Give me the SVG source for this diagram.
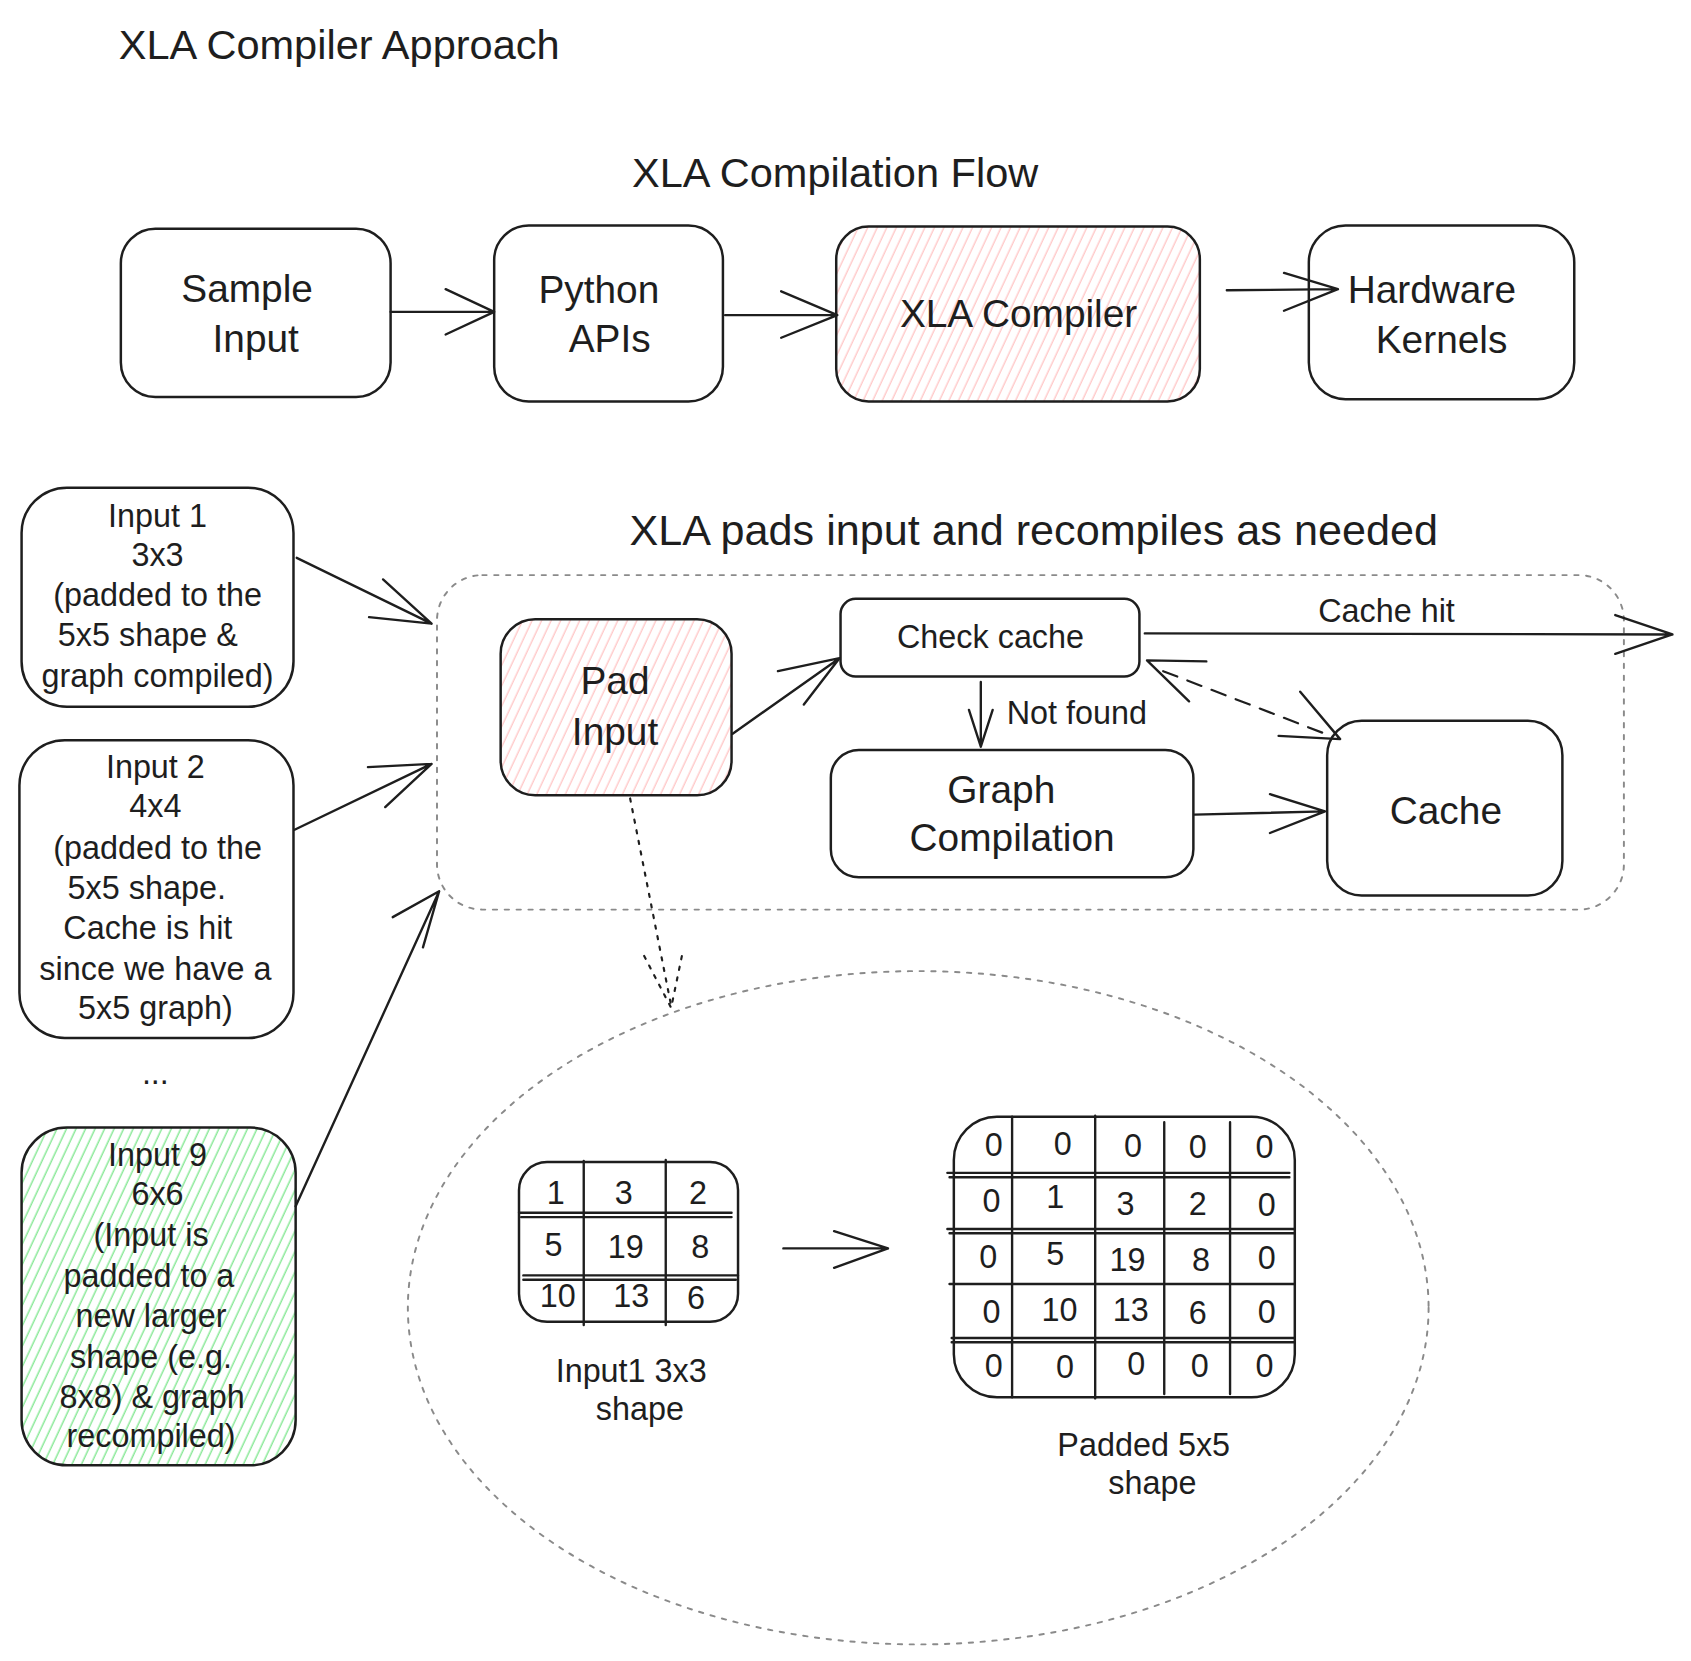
<svg xmlns="http://www.w3.org/2000/svg" width="1691" height="1661" viewBox="0 0 1691 1661">
<defs>
<pattern id="pink" width="8" height="8" patternUnits="userSpaceOnUse" patternTransform="rotate(25)">
<rect width="8" height="8" fill="#ffffff"/>
<line x1="2" y1="0" x2="2" y2="8" stroke="#ffc9c9" stroke-width="1.3"/>
</pattern>
<pattern id="green" width="8" height="8" patternUnits="userSpaceOnUse" patternTransform="rotate(25)">
<rect width="8" height="8" fill="#ffffff"/>
<line x1="2" y1="0" x2="2" y2="8" stroke="#8ce99a" stroke-width="1.4"/>
</pattern>
<style>
.box{fill:#ffffff;stroke:#1e1e1e;stroke-width:2.3}
.t{font-family:"Liberation Sans",Arial,sans-serif;fill:#1e1e1e;text-anchor:middle}
.s{text-anchor:start}
.big{font-size:36px}
.mid{font-size:30px}
.ln{fill:none;stroke:#1e1e1e;stroke-width:2.2;stroke-linecap:round;stroke-linejoin:round}
.dl{fill:none;stroke:#1e1e1e;stroke-width:2;stroke-dasharray:14 10;stroke-linecap:round}
.dt{fill:none;stroke:#1e1e1e;stroke-width:2;stroke-dasharray:3 7;stroke-linecap:round}
.grey{fill:none;stroke:#8a8a8a;stroke-width:1.8;stroke-dasharray:4 7;stroke-linecap:round}
.grid{fill:none;stroke:#1e1e1e;stroke-width:2.2;stroke-linecap:round}
</style>
</defs>
<rect width="1691" height="1661" fill="#ffffff"/>
<g transform="scale(1.079)">

<g id="titles">
<text class="t s" x="110" y="55" font-size="38.5">XLA Compiler Approach</text>
<text class="t" x="774" y="173" font-size="38.5">XLA Compilation Flow</text>
<text class="t" x="958" y="505" font-size="40">XLA pads input and recompiles as needed</text>
</g>

<g id="sample-input">
<rect class="box" x="112" y="212" width="250" height="156" rx="32"/>
<text class="t big" x="229" y="280">Sample</text>
<text class="t big" x="237" y="326">Input</text>
</g>
<g id="python-apis">
<rect class="box" x="458" y="209" width="212" height="163" rx="32"/>
<text class="t big" x="555" y="281">Python</text>
<text class="t big" x="565" y="326">APIs</text>
</g>
<g id="xla-compiler">
<rect class="box" x="775" y="210" width="337" height="162" rx="30" style="fill:url(#pink)"/>
<text class="t big" x="944" y="303">XLA Compiler</text>
</g>
<g id="hardware-kernels">
<rect class="box" x="1213" y="209" width="246" height="161" rx="34"/>
<text class="t big" x="1327" y="281">Hardware</text>
<text class="t big" x="1336" y="327">Kernels</text>
</g>

<g id="container">
<rect class="grey" x="405" y="533" width="1100" height="310" rx="42"/>
</g>
<g id="zoom-ellipse">
<ellipse class="grey" cx="851" cy="1212" rx="473" ry="312"/>
</g>

<g id="input-1">
<rect class="box" x="20" y="452" width="252" height="203" rx="42"/>
<text class="t mid" x="146" y="488">Input 1</text>
<text class="t mid" x="146" y="525">3x3</text>
<text class="t mid" x="146" y="562">(padded to the</text>
<text class="t mid" x="137" y="599">5x5 shape &amp;</text>
<text class="t mid" x="146" y="637">graph compiled)</text>
</g>
<g id="input-2">
<rect class="box" x="18" y="686" width="254" height="276" rx="42"/>
<text class="t mid" x="144" y="721">Input 2</text>
<text class="t mid" x="144" y="757">4x4</text>
<text class="t mid" x="146" y="796">(padded to the</text>
<text class="t mid" x="136" y="833">5x5 shape.</text>
<text class="t mid" x="137" y="870">Cache is hit</text>
<text class="t mid" x="144" y="908">since we have a</text>
<text class="t mid" x="144" y="944">5x5 graph)</text>
</g>
<g id="ellipsis">
<text class="t mid" x="144" y="1005">...</text>
</g>
<g id="input-9">
<rect class="box" x="20" y="1045" width="254" height="313" rx="42" style="fill:url(#green)"/>
<text class="t mid" x="146" y="1081">Input 9</text>
<text class="t mid" x="146" y="1117">6x6</text>
<text class="t mid" x="140" y="1155">(Input is</text>
<text class="t mid" x="138" y="1193">padded to a</text>
<text class="t mid" x="140" y="1230">new larger</text>
<text class="t mid" x="140" y="1268">shape (e.g.</text>
<text class="t mid" x="141" y="1305">8x8) &amp; graph</text>
<text class="t mid" x="140" y="1341">recompiled)</text>
</g>

<g id="pad-input">
<rect class="box" x="464" y="574" width="214" height="163" rx="32" style="fill:url(#pink)"/>
<text class="t big" x="570" y="643">Pad</text>
<text class="t big" x="570" y="690">Input</text>
</g>
<g id="check-cache">
<rect class="box" x="779" y="555" width="277" height="72" rx="14"/>
<text class="t mid" x="918" y="601">Check cache</text>
</g>
<g id="graph-compilation">
<rect class="box" x="770" y="695" width="336" height="118" rx="26"/>
<text class="t big" x="928" y="744">Graph</text>
<text class="t big" x="938" y="789">Compilation</text>
</g>
<g id="cache">
<rect class="box" x="1230" y="668" width="218" height="162" rx="32"/>
<text class="t big" x="1340" y="764">Cache</text>
</g>

<g id="grid-3x3">
<rect class="box" x="481" y="1077" width="203" height="148" rx="26"/>
<path class="grid" d="M541 1076 V1228 M617 1075 V1228 M481 1124 H678 M483 1128 H678 M485 1182 H684 M485 1186 H682"/>
<g class="t mid">
<text x="515" y="1116">1</text><text x="578" y="1116">3</text><text x="647" y="1116">2</text>
<text x="513" y="1164">5</text><text x="580" y="1166">19</text><text x="649" y="1166">8</text>
<text x="517" y="1211">10</text><text x="585" y="1211">13</text><text x="645" y="1213">6</text>
</g>
<text class="t mid" x="585" y="1281">Input1 3x3</text>
<text class="t mid" x="593" y="1316">shape</text>
</g>

<g id="grid-5x5">
<rect class="box" x="884" y="1035" width="316" height="260" rx="40"/>
<path class="grid" d="M938 1035 V1295 M1015 1034 V1296 M1079 1040 V1292 M1140 1040 V1292 M878 1087 H1195 M880 1091 H1195 M878 1139 H1200 M880 1143 H1200 M880 1190 H1200 M882 1240 H1200 M882 1244 H1200"/>
<g class="t mid">
<text x="921" y="1071">0</text><text x="985" y="1070">0</text><text x="1050" y="1072">0</text><text x="1110" y="1073">0</text><text x="1172" y="1073">0</text>
<text x="919" y="1123">0</text><text x="978" y="1120">1</text><text x="1043" y="1126">3</text><text x="1110" y="1126">2</text><text x="1174" y="1127">0</text>
<text x="916" y="1175">0</text><text x="978" y="1172">5</text><text x="1045" y="1178">19</text><text x="1113" y="1178">8</text><text x="1174" y="1176">0</text>
<text x="919" y="1226">0</text><text x="982" y="1224">10</text><text x="1048" y="1224">13</text><text x="1110" y="1227">6</text><text x="1174" y="1226">0</text>
<text x="921" y="1276">0</text><text x="987" y="1277">0</text><text x="1053" y="1274">0</text><text x="1112" y="1276">0</text><text x="1172" y="1276">0</text>
</g>
<text class="t mid" x="1060" y="1349">Padded 5x5</text>
<text class="t mid" x="1068" y="1385">shape</text>
</g>

<g id="connectors">
<path class="ln" d="M362 289 H458 M413 268 L458 289 L413 310"/>
<path class="ln" d="M672 292 H776 M724 270 L776 292 L724 313"/>
<path class="ln" d="M1137 269 L1240 268 M1190 253 L1240 268 L1190 288"/>
<path class="ln" d="M275 517 L400 578 M355 537 L400 578 L342 572"/>
<path class="ln" d="M273 769 L400 708 M341 711 L400 708 L357 748"/>
<path class="ln" d="M274 1118 L407 826 M364 850 L407 826 L392 878"/>
<path class="ln" d="M679 680 L778 610 M721 622 L778 610 L745 653"/>
<path class="ln" d="M1061 587 L1550 588 M1497 570 L1550 588 L1497 606"/>
<text class="t mid" x="1285" y="576">Cache hit</text>
<path class="ln" d="M909 632 V692 M898 658 L909 692 L920 658"/>
<text class="t mid s" x="933" y="671">Not found</text>
<path class="dl" d="M1078 622 L1228 680"/>
<path class="ln" d="M1118 613 L1063 612 L1102 650 M1185 682 L1242 685 L1205 641"/>
<path class="ln" d="M1107 755 L1228 752 M1177 736 L1228 752 L1177 772"/>
<path class="dt" d="M584 740 L622 932"/>
<path class="dt" d="M597 886 L622 934 L633 881"/>
<path class="ln" d="M726 1157 L823 1157 M773 1141 L823 1157 L773 1175"/>
</g>
</g>
</svg>
